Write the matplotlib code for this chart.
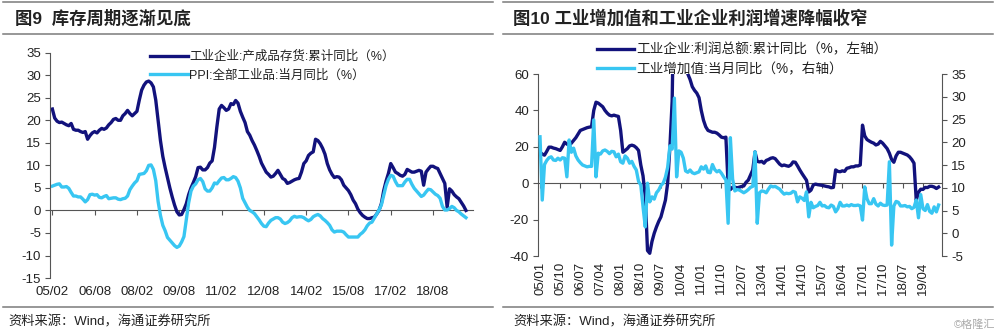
import numpy as np
import matplotlib.pyplot as plt
from matplotlib.lines import Line2D

plt.rcParams['font.family'] = ['Liberation Sans', 'Noto Sans CJK SC', 'DejaVu Sans']
plt.rcParams['axes.unicode_minus'] = False

# 图9: monthly from 2005/02 to 2019/10
inventory = [
    22.5, 20.5, 19.8, 19.5, 19.6, 19.3, 19.0, 18.8, 19.3, 18.0, 17.8,
    17.8, 17.5, 17.3, 17.5, 15.8, 16.6, 17.2, 17.5, 17.2, 17.8, 18.2, 18.0,
    18.3, 19.0, 19.5, 20.2, 20.4, 20.0, 20.0, 21.0, 21.5, 22.2, 21.5, 21.0,
    21.5, 22.0, 24.5, 26.7, 27.8, 28.5, 28.7, 28.3, 27.4, 24.5, 20.0, 15.5,
    12.0, 9.5, 7.2, 5.0, 3.0, 1.2, -0.3, -1.0, -0.9, 0.2, 1.5, 3.5,
    5.0, 6.2, 7.5, 9.5, 9.6, 9.0, 9.0, 9.5, 10.5, 11.0, 14.0, 18.5,
    22.5, 23.3, 22.8, 22.2, 22.5, 23.7, 23.5, 24.4, 23.8, 22.0, 20.7, 19.5,
    17.5, 16.7, 15.5, 14.5, 13.3, 12.0, 10.5, 9.5, 8.5, 8.0, 7.4, 7.6,
    8.2, 8.9, 8.0, 7.1, 6.8, 6.0, 6.2, 6.5, 6.8, 7.0, 7.1, 8.5,
    10.4, 11.0, 12.2, 12.7, 13.0, 15.8, 15.5, 14.8, 13.8, 12.5, 10.4, 9.0,
    8.0, 7.3, 7.5, 7.4, 6.8, 5.6, 5.0, 4.4, 3.5, 2.3, 1.5, 0.3,
    -0.5, -1.1, -1.5, -1.8, -1.8, -1.6, -1.5, -0.8, 0.0, 1.5, 4.4, 6.5,
    8.2, 10.4, 9.5, 8.5, 8.2, 7.8, 7.6, 8.0, 9.1, 8.8, 8.5, 8.5,
    8.7, 8.9, 8.7, 5.6, 8.5, 9.2, 9.8, 9.8, 9.5, 9.3, 8.2, 7.1,
    6.0, 0.7, 4.8, 4.3, 3.5, 3.0, 2.6, 1.8, 1.0, 0.0,
]
ppi = [
    5.4, 5.6, 5.8, 5.9, 5.2, 5.2, 5.3, 4.9, 4.0, 3.2, 3.2,
    3.0, 3.0, 2.5, 1.9, 2.4, 3.5, 3.6, 3.4, 3.5, 2.9, 2.8, 3.1,
    3.3, 2.6, 2.7, 2.8, 2.8, 2.5, 2.4, 2.6, 2.7, 3.2, 4.6, 5.4,
    6.1, 6.6, 8.0, 8.1, 8.2, 8.8, 10.0, 10.1, 9.1, 6.6, 2.0, -1.1,
    -3.3, -4.5, -6.0, -6.6, -7.2, -7.8, -8.2, -7.9, -7.0, -5.8, -2.1, 1.7,
    4.3, 5.4, 5.9, 6.8, 7.1, 6.4, 4.8, 4.3, 4.3, 5.0, 6.1, 5.9,
    6.6, 7.2, 7.3, 6.8, 6.8, 7.1, 7.5, 7.3, 6.5, 5.0, 2.7, 1.7,
    0.7, 0.0, -0.3, -0.7, -1.4, -2.1, -2.9, -3.5, -3.6, -2.8, -2.2, -1.9,
    -1.6, -1.6, -1.9, -2.6, -2.9, -2.7, -2.3, -1.6, -1.3, -1.5, -1.4, -1.4,
    -1.6, -2.0, -2.3, -2.0, -1.4, -1.1, -0.9, -1.2, -1.8, -2.2, -2.7, -3.3,
    -4.3, -4.8, -4.6, -4.6, -4.6, -4.8, -5.4, -5.9, -5.9, -5.9, -5.9, -5.9,
    -5.3, -4.9, -4.3, -3.4, -2.8, -2.6, -1.7, -0.8, 0.1, 1.2, 3.3, 5.5,
    6.9, 7.8, 7.6, 6.4, 5.5, 5.5, 5.5, 6.3, 6.9, 6.9, 5.8, 4.9,
    4.3, 3.7, 3.1, 3.4, 4.1, 4.7, 4.6, 4.1, 3.6, 3.3, 2.7, 0.9,
    0.1, 0.1, 0.4, 0.9, 0.6, 0.0, -0.3, -0.8, -1.2, -1.6,
]
ticks9 = ['05/02', '06/08', '08/02', '09/08', '11/02', '12/08', '14/02', '15/08', '17/02', '18/08']

# 图10: monthly from 2005/01 to 2019/11
profit = [
    17.0, 16.0, 15.4, 17.5, 19.8, 19.8, 19.3, 19.0, 18.5, 18.0, 20.0, 22.5,
    21.5, 20.9, 22.0, 23.5, 25.0, 27.0, 29.0, 29.5, 30.0, 30.5, 30.8, 31.0,
    40.0, 44.5, 44.0, 43.0, 42.0, 40.0, 38.5, 37.4, 37.0, 37.4, 37.0, 36.7,
    29.0, 17.0, 18.0, 19.0, 20.5, 20.9, 20.5, 19.5, 18.0, 10.0, 4.0, -7.5,
    -37.0, -38.5, -32.0, -27.5, -24.0, -21.0, -18.5, -14.0, -9.3, 0.0, 20.0, 45.0,
    119.0, 95.0, 77.0, 72.0, 81.6, 85.0, 60.0, 57.0, 53.0, 51.0, 49.5, 47.0,
    40.0, 34.6, 31.0, 29.0, 28.5, 28.0, 28.0, 27.5, 26.5, 25.3, 25.0, 25.3,
    -1.0, -3.5, -2.2, -2.2, -2.5, -2.2, -1.8, -1.5, 0.5, 1.7, 4.5, 7.3,
    17.2, 12.0, 11.7, 12.0, 11.0, 12.5, 13.0, 13.7, 14.0, 13.5, 12.0, 10.5,
    9.6, 10.0, 9.6, 9.3, 10.0, 11.7, 11.5, 9.5, 7.3, 5.3, 3.5, 1.6,
    -4.8, -3.8, -1.0, -0.5, -0.8, -1.0, -1.2, -1.5, -1.8, -2.0, -2.5, -2.3,
    7.3, 6.5, 6.3, 6.8, 6.5, 8.2, 8.5, 9.0, 9.0, 9.5, 9.5, 10.0,
    31.9, 26.0, 24.0, 23.2, 22.5, 22.0, 21.0, 21.5, 23.0, 22.0, 20.5, 19.0,
    16.5, 13.0, 11.5, 15.0, 17.0, 17.0, 16.5, 16.0, 15.5, 14.5, 13.0, 11.0,
    -9.3, -5.0, -3.3, -3.4, -2.3, -2.4, -1.7, -1.7, -2.1, -2.9, -2.1,
]
iva = [
    21.2, 7.3, 15.1, 16.0, 16.6, 16.8, 16.1, 16.0, 16.5, 16.1, 16.6, 16.5,
    12.4, 20.5, 17.8, 18.7, 17.0, 16.1, 15.5, 15.0, 14.8, 14.6, 14.7, 14.7,
    24.9, 12.4, 17.6, 17.4, 18.1, 18.3, 18.0, 17.5, 18.0, 17.9, 16.8, 17.4,
    15.7, 15.4, 17.0, 16.5, 15.4, 15.8, 14.7, 13.9, 11.4, 10.6, 5.8, 1.4,
    11.0, 6.9, 8.0, 7.5, 8.9, 9.5, 10.5, 11.0, 12.3, 14.5, 19.2, 18.5,
    29.7, 12.4, 18.1, 17.8, 16.5, 13.7, 13.4, 13.9, 13.3, 13.1, 13.3, 13.5,
    14.6, 14.1, 14.8, 13.4, 13.3, 15.1, 14.0, 13.5, 13.8, 13.2, 12.4, 11.7,
    2.2, 21.0, 11.9, 9.3, 9.6, 9.5, 9.2, 8.9, 9.2, 9.6, 10.1, 10.3,
    17.9, 2.2, 8.9, 9.3, 9.2, 8.9, 9.7, 10.4, 10.2, 10.3, 10.0, 9.7,
    9.1, 8.6, 8.8, 8.7, 8.8, 9.2, 9.0, 6.9, 8.0, 7.7, 7.2, 9.1,
    3.6, 6.8, 5.6, 5.9, 6.1, 6.8, 6.0, 6.1, 5.7, 5.6, 6.2, 5.9,
    4.7, 5.4, 6.8, 6.0, 6.0, 6.2, 6.0, 6.3, 6.1, 6.1, 6.2, 6.0,
    2.9, 10.2, 7.6, 6.5, 6.5, 7.6, 6.4, 6.0, 6.6, 6.2, 6.1, 6.2,
    15.7, -2.6, 6.0, 7.0, 6.8, 6.0, 6.0, 6.1, 5.8, 5.9, 5.4, 5.7,
    7.3, 3.4, 8.5, 5.4, 5.0, 6.3, 4.8, 4.4, 5.8, 4.7, 6.2,
]
ticks10 = ['05/01', '05/10', '06/07', '07/04', '08/01', '08/10', '09/07', '10/04', '11/01', '11/10',
           '12/07', '13/04', '14/01', '14/10', '15/07', '16/04', '17/01', '17/10', '18/07', '19/04']

navy = '#12127c'
cyan = '#38c6f2'
axc = '#555555'
txt = '#222222'

fig = plt.figure(figsize=(10, 3.35), dpi=100)

# ---- left chart ----
ax1 = fig.add_axes([0.05, 0.170, 0.423, 0.6727])
x1 = np.arange(len(inventory))
l1, = ax1.plot(x1, inventory, color=navy, lw=2.4)
l2, = ax1.plot(np.arange(len(ppi)), ppi, color=cyan, lw=2.4)
ax1.set_xlim(-1, 179)
ax1.set_ylim(-15, 35)
ax1.set_yticks(range(-15, 36, 5))
pos9 = np.arange(len(ticks9)) * 18
ax1.set_xticks(pos9)
ax1.set_xticklabels(ticks9)
ax1.tick_params(axis='x', length=0, pad=6, labelsize=9.5, labelcolor=txt)
ax1.tick_params(axis='y', length=3.5, width=0.8, color=axc, labelsize=9.5, labelcolor=txt, pad=3)
for s in ['top', 'right', 'bottom']:
    ax1.spines[s].set_visible(False)
ax1.spines['left'].set_color(axc)
z1 = ax1.secondary_xaxis(0.3)
z1.set_xticks(pos9)
z1.tick_params(labelbottom=False, length=3.5, width=0.8, color=axc)
z1.spines['bottom'].set_color(axc)

fig.legend([l1, l2], ['工业企业:产成品存货:累计同比（%）', 'PPI:全部工业品:当月同比（%）'],
           loc='upper left', bbox_to_anchor=(0.150, 0.848), bbox_transform=fig.transFigure,
           frameon=False, borderpad=0, borderaxespad=0, handlelength=3.0, handletextpad=0.15,
           labelspacing=0.5, fontsize=9, labelcolor=txt)

# ---- right chart ----
ax3 = fig.add_axes([0.538, 0.2358, 0.404, 0.5433])
x2 = np.arange(len(profit))
l3, = ax3.plot(x2, profit, color=navy, lw=2.4)
ax3.set_xlim(-0.9, 179.5)
ax3.set_ylim(-40, 60)
ax3.set_yticks(range(-40, 61, 20))
pos10 = np.arange(len(ticks10)) * 9
ax3.set_xticks(pos10)
ax3.set_xticklabels(ticks10, rotation=90)
ax3.tick_params(axis='x', length=0, pad=4, labelsize=9.5, labelcolor=txt)
ax3.tick_params(axis='y', length=3.5, width=0.8, color=axc, labelsize=9.5, labelcolor=txt, pad=3)
for s in ['top', 'right', 'bottom']:
    ax3.spines[s].set_visible(False)
ax3.spines['left'].set_color(axc)
z3 = ax3.secondary_xaxis(0.4)
z3.set_xticks(pos10)
z3.tick_params(labelbottom=False, length=3.5, width=0.8, color=axc)
z3.spines['bottom'].set_color(axc)

ax4 = ax3.twinx()
l4, = ax4.plot(np.arange(len(iva)), iva, color=cyan, lw=2.4)
ax4.set_ylim(-5, 35)
ax4.set_yticks(range(-5, 36, 5))
ax4.tick_params(axis='y', length=3.5, width=0.8, color=axc, labelsize=9.5, labelcolor=txt, pad=3)
for s in ['top', 'left', 'bottom']:
    ax4.spines[s].set_visible(False)
ax4.spines['right'].set_color(axc)

fig.legend([l3, l4], ['工业企业:利润总额:累计同比（%，左轴）', '工业增加值:当月同比（%，右轴）'],
           loc='upper left', bbox_to_anchor=(0.597, 0.873), bbox_transform=fig.transFigure,
           frameon=False, borderpad=0, borderaxespad=0, handlelength=2.7, handletextpad=0.15,
           labelspacing=0.42, fontsize=9.8, labelcolor=txt)

# ---- titles, rules, sources ----
rule = '#7a7a7a'
for x0, x1_ in [(0.003, 0.493), (0.503, 0.993)]:
    for yy in [0.994, 0.8985, 0.0836]:
        fig.add_artist(Line2D([x0, x1_], [yy, yy], color=rule, lw=1.1))

fig.text(0.015, 0.946, '图9  库存周期逐渐见底', fontsize=12.5, fontweight='bold', color=txt, va='center')
fig.text(0.513, 0.946, '图10 工业增加值和工业企业利润增速降幅收窄', fontsize=12.5, fontweight='bold',
         color=txt, va='center')
fig.text(0.008, 0.039, '资料来源：Wind，海通证券研究所', fontsize=9.5, color=txt, va='center')
fig.text(0.513, 0.039, '资料来源：Wind，海通证券研究所', fontsize=9.5, color=txt, va='center')
fig.text(0.995, 0.030, '©格隆汇', fontsize=8, color='#aaaaaa', ha='right', va='center')

fig.savefig('out.png', dpi=100)
